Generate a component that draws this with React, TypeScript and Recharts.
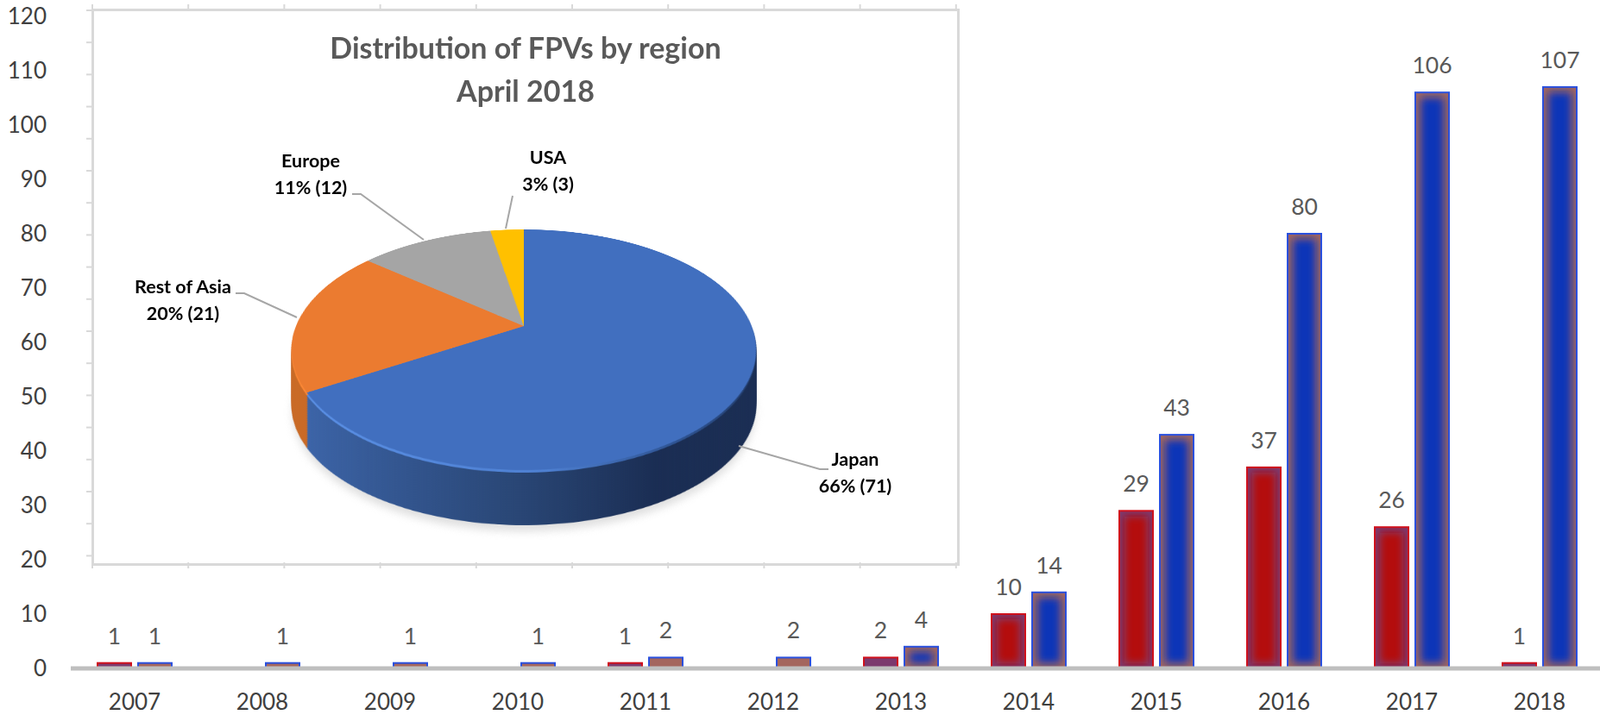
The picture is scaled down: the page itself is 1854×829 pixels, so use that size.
import { Bar, BarChart, Cell, LabelList, Pie, PieChart, XAxis, YAxis } from 'recharts';

const years = ['2007', '2008', '2009', '2010', '2011', '2012', '2013', '2014', '2015', '2016', '2017', '2018'];
const redValues = [1, null, null, null, 1, null, 2, 10, 29, 37, 26, 1];
const blueValues = [1, 1, 1, 1, 2, 2, 4, 14, 43, 80, 106, 107];
const yTicks = [0, 10, 20, 30, 40, 50, 60, 70, 80, 90, 100, 110, 120];

const regions = ['Japan', 'Rest of Asia', 'Europe', 'USA'];
const regionCounts = [71, 21, 12, 3];
const topColors = ['#416fbf', '#eb7b30', '#a5a5a5', '#ffc000'];
const rimColors = ['url(#rimBlue)', '#ff8a35', '#a5a5a5', '#ffc000'];
const wallColors = ['url(#wallBlue)', '#c96a26', '#8a8a8a', '#c99700'];

const barData = years.map((year, i) => ({ year, red: redValues[i], blue: blueValues[i] }));
const pieData = regions.map((name, i) => ({ name, value: regionCounts[i] }));
const pieTotal = regionCounts.reduce((a, b) => a + b, 0);
const pieLabel = (i: number) => `${Math.round((regionCounts[i] / pieTotal) * 100)}% (${regionCounts[i]})`;

const FONT = 'Lato, "Open Sans", sans-serif';
const wallSteps = Array.from({ length: 32 }, (_, i) => 64 - i * 2);

// label anchor and leader line for each region, in page pixels
const pieCallouts = [
  { region: 0, x: 991, y: 533, line: '856,517 950,544 960,544' },
  { region: 1, x: 212, y: 333, line: '273,340 283,340 344,368' },
  { region: 2, x: 360, y: 187, line: '408,225 418,225 491,278' },
  { region: 3, x: 635, y: 183, line: '594,227 586,265' },
];

function GlowBar(props: any) {
  const { x, y, width, height, edge, core, stroke } = props;
  if (height == null || width == null) return null;
  const inset = 6;
  const hasCore = height > 14;
  const clipId = `bar-${Math.round(x)}`;
  return (
    <g>
      <clipPath id={clipId}>
        <rect x={x} y={y} width={width} height={height} />
      </clipPath>
      <rect x={x} y={y} width={width} height={height} fill={edge} />
      {hasCore && (
        <g clipPath={`url(#${clipId})`}>
          <rect
            x={x + inset}
            y={y + inset}
            width={width - inset * 2}
            height={height - inset * 2}
            fill={core}
            filter="url(#barBlur)"
          />
        </g>
      )}
      <rect x={x} y={y} width={width} height={height} fill="none" stroke={stroke} strokeWidth={2} />
    </g>
  );
}

function PieLayer({ offset, radius, fills }: { offset: number; radius: number; fills: string[] }) {
  return (
    <div
      style={{
        position: 'absolute',
        left: 607 - 280,
        top: 378 - 280,
        width: 560,
        height: 560,
        transform: `translateY(${offset}px) perspective(1155px) rotateX(59.5deg)`,
      }}
    >
      <PieChart width={560} height={560} margin={{ top: 0, right: 0, bottom: 0, left: 0 }}>
        <defs>
          <linearGradient id="wallBlue" x1="0" y1="0" x2="1" y2="0">
            <stop offset="0%" stopColor="#3c64a8" />
            <stop offset="45%" stopColor="#294675" />
            <stop offset="72%" stopColor="#1a2d53" />
            <stop offset="100%" stopColor="#1a2d53" />
          </linearGradient>
          <linearGradient id="rimBlue" x1="0" y1="0" x2="1" y2="0">
            <stop offset="0%" stopColor="#5a90e6" />
            <stop offset="50%" stopColor="#4e80d2" />
            <stop offset="75%" stopColor="#2f5595" />
            <stop offset="100%" stopColor="#1f3763" />
          </linearGradient>
        </defs>
        <Pie
          data={pieData}
          dataKey="value"
          nameKey="name"
          cx={280}
          cy={280}
          innerRadius={0}
          outerRadius={radius}
          startAngle={90}
          endAngle={-270}
          stroke="none"
          isAnimationActive={false}
        >
          {pieData.map((d, i) => (
            <Cell key={d.name} fill={fills[i]} />
          ))}
        </Pie>
      </PieChart>
    </div>
  );
}

export default function App() {
  return (
    <div
      style={{
        position: 'absolute',
        left: 0,
        top: 0,
        width: 1854,
        height: 829,
        overflow: 'hidden',
        background: '#fff',
        fontFamily: FONT,
      }}
    >
      <BarChart
        width={1858}
        height={829}
        data={barData}
        margin={{ top: 19, right: 0, bottom: 0, left: 0 }}
        barSize={39}
        barGap={8}
      >
        <defs>
          <filter id="barBlur" x="-100%" y="-100%" width="300%" height="300%">
            <feGaussianBlur stdDeviation="5" />
          </filter>
        </defs>
        <XAxis
          dataKey="year"
          height={54}
          interval={0}
          tickLine={false}
          tickMargin={24}
          axisLine={{ stroke: '#bfbfbf', strokeWidth: 5 }}
          tick={{ fontSize: 26, fill: '#404040', fontFamily: FONT }}
        />
        <YAxis
          width={82}
          domain={[0, 120]}
          ticks={yTicks}
          interval={0}
          axisLine={false}
          tickLine={false}
          tickMargin={22}
          tick={{ fontSize: 26, fill: '#404040', fontFamily: FONT }}
        />
        <Bar
          dataKey="red"
          isAnimationActive={false}
          shape={(p: any) => <GlowBar {...p} edge="#7c3a6e" core="#b40808" stroke="#d0101c" />}
        >
          <LabelList dataKey="red" position="top" offset={22} fill="#595959" fontSize={26.5} fontFamily={FONT} />
        </Bar>
        <Bar
          dataKey="blue"
          isAnimationActive={false}
          shape={(p: any) => <GlowBar {...p} edge="#a4665e" core="#1036b8" stroke="#2a50de" />}
        >
          <LabelList dataKey="blue" position="top" offset={22} fill="#595959" fontSize={26.5} fontFamily={FONT} />
        </Bar>
      </BarChart>

      <div
        style={{
          position: 'absolute',
          left: 106,
          top: 10,
          width: 1000,
          height: 640,
          background: '#fff',
          border: '3px solid #d9d9d9',
          boxSizing: 'content-box',
        }}
      />

      <div style={{ position: 'absolute', left: 0, top: 0, filter: 'blur(5px)', opacity: 0.9 }}>
        <PieLayer offset={72} radius={263} fills={['#dcdcdc', '#dcdcdc', '#dcdcdc', '#dcdcdc']} />
      </div>
      {wallSteps.map((step) => (
        <PieLayer key={step} offset={step} radius={264} fills={wallColors} />
      ))}
      <PieLayer offset={3} radius={264} fills={rimColors} />
      <PieLayer offset={0} radius={264} fills={topColors} />

      <svg width={1854} height={829} style={{ position: 'absolute', left: 0, top: 0 }}>
        {Array.from({ length: 18 }, (_, i) => (
          <line key={`l${i}`} x1={100} x2={107} y1={12 + i * 37.2} y2={12 + i * 37.2} stroke="#d9d9d9" strokeWidth={2} />
        ))}
        {Array.from({ length: 10 }, (_, i) => (
          <g key={`t${i}`}>
            <line x1={107 + i * 111.2} x2={107 + i * 111.2} y1={5} y2={11} stroke="#d9d9d9" strokeWidth={2} />
            <line x1={107 + i * 111.2} x2={107 + i * 111.2} y1={652} y2={659} stroke="#d9d9d9" strokeWidth={2} />
          </g>
        ))}
        <text x={609} y={68} textAnchor="middle" fontSize={34} fontWeight={700} fill="#595959" fontFamily={FONT}>
          Distribution of FPVs by region
        </text>
        <text x={609} y={118} textAnchor="middle" fontSize={34} fontWeight={700} fill="#595959" fontFamily={FONT}>
          April 2018
        </text>
        {pieCallouts.map((c) => (
          <g key={c.region}>
            <polyline points={c.line} fill="none" stroke="#a6a6a6" strokeWidth={2} />
            <text x={c.x} y={c.y + 7} textAnchor="middle" fontSize={21.5} fontWeight={700} fill="#000" fontFamily={FONT}>
              {regions[c.region]}
            </text>
            <text x={c.x} y={c.y + 38} textAnchor="middle" fontSize={21.5} fontWeight={700} fill="#000" fontFamily={FONT}>
              {pieLabel(c.region)}
            </text>
          </g>
        ))}
      </svg>
    </div>
  );
}
